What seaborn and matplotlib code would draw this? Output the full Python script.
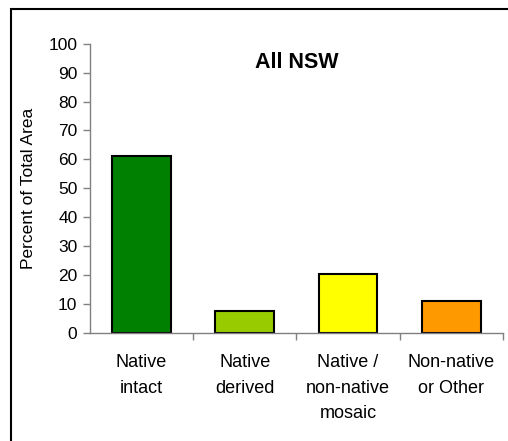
import matplotlib
matplotlib.use("Agg")
import matplotlib.pyplot as plt
import pandas as pd
import seaborn as sns
from matplotlib.patches import Rectangle

categories = ["Native\nintact", "Native\nderived", "Native /\nnon-native\nmosaic", "Non-native\nor Other"]
percent = [61, 7.7, 20.4, 11]
colors = ["#008000", "#99CC00", "#FFFF00", "#FF9900"]

sns.set_style("white")
plt.rcParams["font.family"] = ["Liberation Sans", "DejaVu Sans"]
plt.rcParams["text.color"] = "black"
plt.rcParams["axes.labelcolor"] = "black"
plt.rcParams["xtick.labelcolor"] = "black"
plt.rcParams["ytick.labelcolor"] = "black"

df = pd.DataFrame({"category": categories, "percent": percent})

fig = plt.figure(figsize=(5.08, 4.41), dpi=100)
ax = fig.add_axes([0.177, 0.245, 0.813, 0.656])

sns.barplot(data=df, x="category", y="percent", hue="category", palette=colors,
            saturation=1, width=0.57, edgecolor="black", linewidth=1.5,
            legend=False, ax=ax)

ax.set_ylim(0, 100)
ax.set_xlim(-0.5, 3.5)
ax.set_yticks(range(0, 101, 10))
ax.tick_params(axis="y", direction="out", length=5, width=1, color="#808080",
               labelsize=12.5, pad=4, left=True)
ax.set_xticks(range(len(categories)))
ax.set_xticklabels(categories, fontsize=13, linespacing=1.68, va="top")
ax.tick_params(axis="x", length=0, pad=15)
ax.set_xticks([0.5, 1.5, 2.5, 3.5], minor=True)
ax.tick_params(axis="x", which="minor", direction="out", length=5, width=1,
               color="#808080", bottom=True)

for side in ["top", "right"]:
    ax.spines[side].set_visible(False)
for side in ["left", "bottom"]:
    ax.spines[side].set_color("#808080")
    ax.spines[side].set_linewidth(1)

ax.set_xlabel("")
ax.set_ylabel("Percent of Total Area", fontsize=12.5)
ax.yaxis.set_label_coords(-0.13, 0.5)

ax.text(1.5, 93.4, "All NSW", ha="center", va="center", fontsize=15.5, fontweight="bold")

fig.patches.append(Rectangle((11 / 508, -0.1), 1.2, 1.1 - 9 / 441,
                             transform=fig.transFigure, fill=False,
                             edgecolor="black", linewidth=1.5))

fig.savefig("out.png", dpi=100)
